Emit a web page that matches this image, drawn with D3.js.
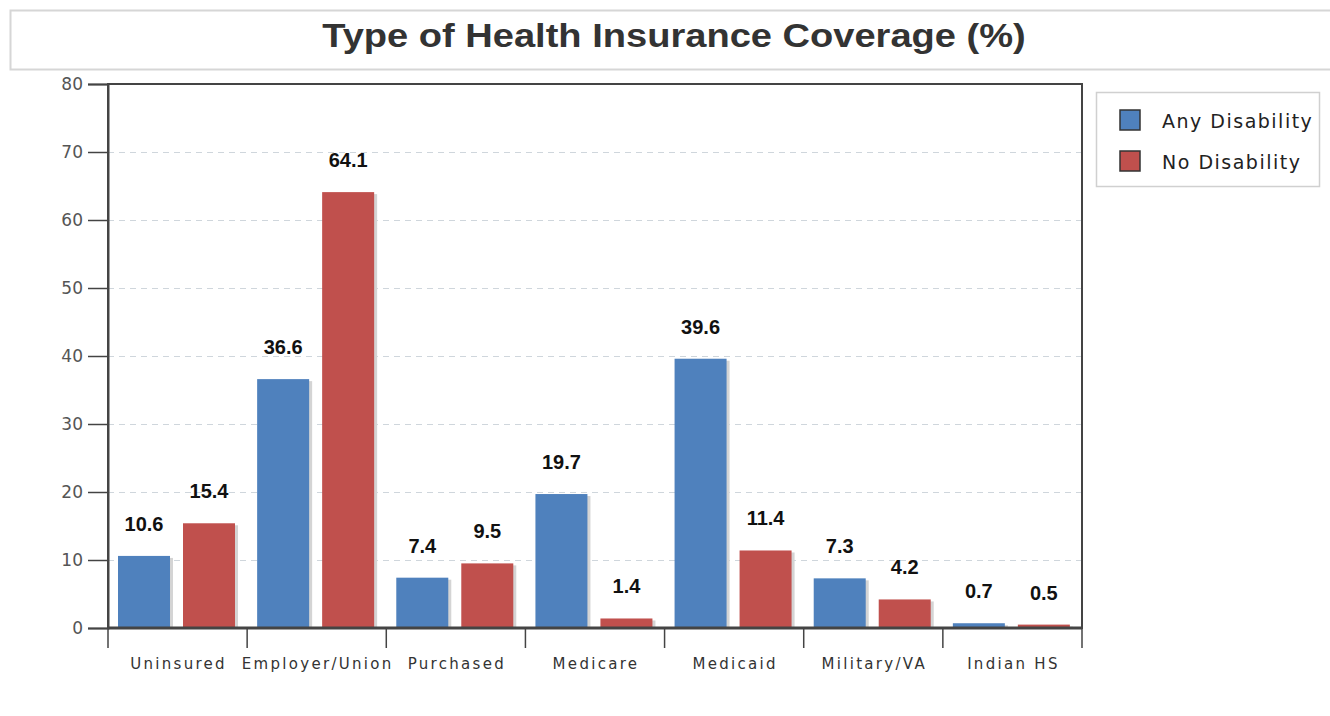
<!DOCTYPE html>
<html>
<head>
<meta charset="utf-8">
<script src="https://cdn.jsdelivr.net/npm/d3@7"></script>
<style>
body { margin: 0; background: #fff; }
text { font-family: "DejaVu Sans", sans-serif; }
</style>
</head>
<body>
<script>
const categories = ["Uninsured", "Employer/Union", "Purchased", "Medicare", "Medicaid", "Military/VA", "Indian HS"];
const seriesNames = ["Any Disability", "No Disability"];
const anyDisability = [10.6, 36.6, 7.4, 19.7, 39.6, 7.3, 0.7];
const noDisability = [15.4, 64.1, 9.5, 1.4, 11.4, 4.2, 0.5];
const yTicks = [0, 10, 20, 30, 40, 50, 60, 70, 80];
const colors = ["#4F81BD", "#C0504D"];

const width = 1330, height = 716;
const plotL = 108, plotR = 1082, plotT = 84, plotB = 628;

const svg = d3.select("body").append("svg")
    .attr("width", width)
    .attr("height", height);

// title box
svg.append("rect")
    .attr("x", 10.5).attr("y", 10.5)
    .attr("width", 1340).attr("height", 59)
    .attr("fill", "#fff")
    .attr("stroke", "#d6d6d6")
    .attr("stroke-width", 2);

// title is a bit stretched sideways in the original
svg.append("text")
    .attr("transform", "translate(674,47) scale(1.12,1)")
    .attr("text-anchor", "middle")
    .attr("font-weight", "bold")
    .attr("font-size", 34)
    .attr("fill", "#333")
    .style("font-family", "'Liberation Sans', Arial, sans-serif")
    .text("Type of Health Insurance Coverage (%)");

const x = d3.scaleBand().domain(categories).range([plotL, plotR]);
const y = d3.scaleLinear().domain([0, 80]).range([plotB, plotT]);
const xInner = d3.scaleBand().domain(seriesNames)
    .range([10, 127]).paddingInner(0.2);

// grid
svg.append("g")
    .selectAll("line")
    .data(yTicks.filter(d => d > 0 && d < 80))
    .join("line")
    .attr("x1", plotL).attr("x2", plotR)
    .attr("y1", d => y(d) + 0.5).attr("y2", d => y(d) + 0.5)
    .attr("stroke", "#cfd6dc")
    .attr("stroke-dasharray", "6,5");

// bars
const rows = categories.map((c, i) => [
    {cat: c, s: seriesNames[0], v: anyDisability[i]},
    {cat: c, s: seriesNames[1], v: noDisability[i]}
]).flat();

const bars = svg.append("g");
bars.selectAll(".shadow")
    .data(rows)
    .join("rect")
    .attr("class", "shadow")
    .attr("x", d => x(d.cat) + xInner(d.s) + 3)
    .attr("y", d => y(d.v) + 2)
    .attr("width", xInner.bandwidth())
    .attr("height", d => plotB - y(d.v) - 2)
    .attr("fill", "#d4d4d4");

bars.selectAll(".bar")
    .data(rows)
    .join("rect")
    .attr("class", "bar")
    .attr("x", d => x(d.cat) + xInner(d.s))
    .attr("y", d => y(d.v))
    .attr("width", xInner.bandwidth())
    .attr("height", d => plotB - y(d.v))
    .attr("fill", d => colors[seriesNames.indexOf(d.s)]);

// value labels
svg.append("g")
    .selectAll("text")
    .data(rows)
    .join("text")
    .attr("x", d => x(d.cat) + xInner(d.s) + xInner.bandwidth() / 2)
    .attr("y", d => y(d.v) - 25)
    .attr("text-anchor", "middle")
    .attr("font-size", 20)
    .attr("font-weight", "bold")
    .attr("fill", "#111")
    .style("font-family", "'Liberation Sans', Arial, sans-serif")
    .text(d => d.v.toFixed(1));

// frame
svg.append("rect")
    .attr("x", plotL).attr("y", plotT)
    .attr("width", plotR - plotL).attr("height", plotB - plotT)
    .attr("fill", "none")
    .attr("stroke", "#444")
    .attr("stroke-width", 2);

// y axis
const yAxis = svg.append("g")
    .attr("transform", `translate(${plotL},0)`)
    .call(d3.axisLeft(y).tickValues(yTicks).tickSize(20).tickPadding(5));
yAxis.select(".domain").attr("stroke", "#444").attr("stroke-width", 2);
yAxis.selectAll(".tick line").attr("stroke", "#444").attr("stroke-width", 1.5);
yAxis.selectAll(".tick text")
    .attr("font-size", 17)
    .attr("fill", "#555")
    .style("font-family", "'DejaVu Sans', sans-serif");

// x axis: ticks at category boundaries
const bounds = categories.map(c => x(c)).concat([plotR]);
const xAxis = svg.append("g");
xAxis.append("line")
    .attr("x1", plotL).attr("x2", plotR)
    .attr("y1", plotB).attr("y2", plotB)
    .attr("stroke", "#444").attr("stroke-width", 3);
xAxis.selectAll(".bt")
    .data(bounds)
    .join("line")
    .attr("class", "bt")
    .attr("x1", d => d).attr("x2", d => d)
    .attr("y1", plotB).attr("y2", plotB + 20)
    .attr("stroke", "#444").attr("stroke-width", 1.5);
xAxis.selectAll("text")
    .data(categories)
    .join("text")
    .attr("x", d => x(d) + x.bandwidth() / 2 + 1)
    .attr("y", 669)
    .attr("text-anchor", "middle")
    .attr("font-size", 15)
    .attr("letter-spacing", 2.3)
    .attr("fill", "#333")
    .text(d => d);

// legend
const legend = svg.append("g");
legend.append("rect")
    .attr("x", 1096.5).attr("y", 92.5)
    .attr("width", 223).attr("height", 94)
    .attr("fill", "#fff")
    .attr("stroke", "#d0d0d0")
    .attr("stroke-width", 1.5);
const li = legend.selectAll(".li")
    .data(seriesNames)
    .join("g")
    .attr("class", "li")
    .attr("transform", (d, i) => `translate(1120,${110 + i * 41})`);
li.append("rect")
    .attr("width", 20).attr("height", 20)
    .attr("fill", (d, i) => colors[i])
    .attr("stroke", "#333")
    .attr("stroke-width", 1.5);
li.append("text")
    .attr("x", 42).attr("y", 18)
    .attr("font-size", 19)
    .attr("letter-spacing", 1.5)
    .attr("fill", "#222")
    .text(d => d);
</script>
</body>
</html>
